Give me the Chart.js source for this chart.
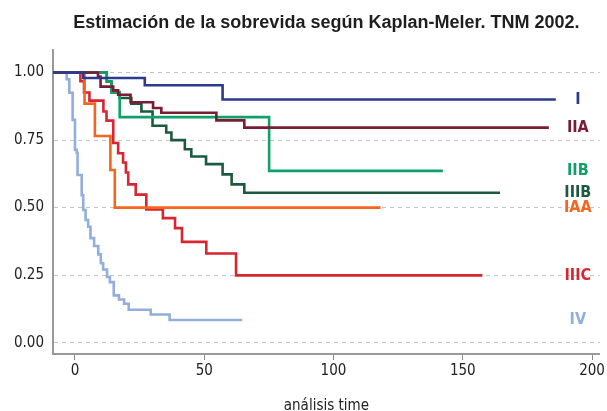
<!DOCTYPE html>
<html>
<head>
<meta charset="utf-8">
<title>Kaplan-Meier TNM 2002</title>
<script src="https://cdn.jsdelivr.net/npm/chart.js@4.4.0/dist/chart.umd.min.js"></script>
<style>
  html, body { margin: 0; padding: 0; background: #fff; }
  #km { display: block; }
</style>
</head>
<body>
<canvas id="km" width="607" height="411"></canvas>
<script>
// stage names, written at the right end of each curve
var stages = ['I', 'IIA', 'IIB', 'IIIB', 'IAA', 'IIIC', 'IV'];

// step times / survival (first point = start, last point = end of follow-up)
var timeI = [-8.5, 3.2, 27.0, 57.1, 186.0];
var survI = [1.0, 0.980, 0.953, 0.900, 0.900];

var timeIIA = [-8.5, 8.9, 9.9, 14.8, 16.7, 21.5, 30.2, 33.4, 54.7, 65.5, 183.3];
var survIIA = [1.0, 0.985, 0.948, 0.934, 0.918, 0.890, 0.869, 0.851, 0.823, 0.796, 0.796];

var timeIIB = [-8.5, 12.3, 14.1, 17.3, 75.1, 142.3];
var survIIB = [1.0, 0.967, 0.928, 0.835, 0.636, 0.636];

var timeIIIB = [-8.5, 12.3, 14.1, 17.3, 21.8, 25.7, 30.0, 35.3, 37.3, 42.5, 45.0, 50.7, 57.1, 60.6, 65.5, 164.4];
var survIIIB = [1.0, 0.967, 0.926, 0.906, 0.885, 0.856, 0.803, 0.778, 0.750, 0.716, 0.689, 0.661, 0.623, 0.586, 0.555, 0.555];

var timeIAA = [-8.5, 3.7, 7.7, 13.7, 15.4, 118.2];
var survIAA = [1.0, 0.885, 0.765, 0.639, 0.500, 0.500];

var timeIIIC = [-8.5, 2.1, 3.5, 5.6, 11.0, 12.2, 14.8, 16.7, 18.6, 19.7, 20.6, 23.5, 27.6, 34.0, 38.7, 41.4, 50.8, 62.3, 157.6];
var survIIIC = [1.0, 0.968, 0.926, 0.896, 0.856, 0.822, 0.739, 0.701, 0.667, 0.630, 0.586, 0.548, 0.493, 0.461, 0.424, 0.373, 0.330, 0.249, 0.249];

var timeIV = [-8.5, -3.2, -2.2, -0.9, 0, 0.65, 1.0, 2.6, 3.2, 4.1, 5.1, 6.0, 7.4, 9.0, 10.0, 10.9, 12.4, 13.5, 15.0, 17.0, 19.0, 20.8, 29.3, 36.6, 64.7];
var survIV = [1.0, 0.975, 0.925, 0.825, 0.714, 0.703, 0.621, 0.546, 0.491, 0.454, 0.429, 0.387, 0.358, 0.327, 0.294, 0.271, 0.243, 0.224, 0.175, 0.160, 0.144, 0.122, 0.104, 0.084, 0.084];

// axis tick labels
var xTicks = [0, 50, 100, 150, 200];
var yTicks = [0, 0.25, 0.5, 0.75, 1.0];

var colors = ['#2b3a8e', '#7b1c33', '#10a06a', '#1b5a3e', '#f7641c', '#d8252f', '#92aedb'];

var allTimes = [timeI, timeIIA, timeIIB, timeIIIB, timeIAA, timeIIIC, timeIV];
var allSurv = [survI, survIIA, survIIB, survIIIB, survIAA, survIIIC, survIV];

var condensed = '"Liberation Sans Narrow", "DejaVu Sans Condensed", "Liberation Sans", sans-serif';

function toPoints(t, s) {
    return t.map(function(v, i) {
        return {x: v, y: s[i]};
    });
}

var datasets = stages.map(function(name, i) {
    return {
        label: name,
        data: toPoints(allTimes[i], allSurv[i]),
        borderColor: colors[i],
        borderWidth: 2.6,
        stepped: 'before',
        pointRadius: 0,
        fill: false
    };
});

// stage names at the right, level with where each curve ends
var stageLabels = {
    id: 'stageLabels',
    afterDatasetsDraw: function(chart) {
        var ctx = chart.ctx;
        var xs = chart.scales.x, ys = chart.scales.y;
        ctx.save();
        ctx.font = 'bold 16px ' + condensed;
        ctx.textAlign = 'center';
        ctx.textBaseline = 'middle';
        stages.forEach(function(name, i) {
            var s = allSurv[i];
            ctx.fillStyle = colors[i];
            ctx.fillText(name, xs.getPixelForValue(194.5), ys.getPixelForValue(s[s.length - 1]));
        });
        ctx.restore();
    }
};

var ctx = document.getElementById('km').getContext('2d');
var chart = new Chart(ctx, {
    type: 'line',
    data: {datasets: datasets},
    plugins: [stageLabels],
    options: {
        responsive: false,
        animation: false,
        layout: {padding: {left: 0, right: 4, top: 0, bottom: 0}},
        plugins: {
            legend: {display: false},
            tooltip: {enabled: false},
            title: {
                display: true,
                fullSize: false,
                text: 'Estimación de la sobrevida según Kaplan-Meler. TNM 2002.',
                color: '#1e1e1e',
                font: {family: '"Liberation Sans", Arial, sans-serif', size: 18, weight: 'bold'},
                padding: {top: 12, bottom: 16}
            }
        },
        scales: {
            x: {
                type: 'linear',
                min: -8.5,
                max: 203,
                afterBuildTicks: function(scale) {
                    scale.ticks = xTicks.map(function(v) { return {value: v}; });
                },
                afterFit: function(scale) { scale.height = 57; },
                ticks: {
                    color: '#222',
                    padding: 2,
                    font: {family: condensed, size: 15},
                    callback: function(v) { return v; }
                },
                grid: {drawOnChartArea: false, drawTicks: true, tickLength: 6, color: '#888', lineWidth: 1},
                border: {color: '#999', width: 2},
                title: {
                    display: true,
                    text: 'análisis time',
                    color: '#222',
                    font: {family: condensed, size: 15},
                    padding: {top: 0, bottom: -4}
                }
            },
            y: {
                min: -0.042,
                max: 1.085,
                afterBuildTicks: function(scale) {
                    scale.ticks = yTicks.map(function(v) { return {value: v}; });
                },
                afterFit: function(scale) { scale.width = 53; },
                ticks: {
                    color: '#222',
                    padding: 9,
                    font: {family: condensed, size: 15},
                    callback: function(v) { return v.toFixed(2); }
                },
                grid: {drawTicks: false, color: '#c4c4c4', lineWidth: 1},
                border: {color: '#999', width: 2, dash: [4, 4]}
            }
        }
    }
});
</script>
</body>
</html>
